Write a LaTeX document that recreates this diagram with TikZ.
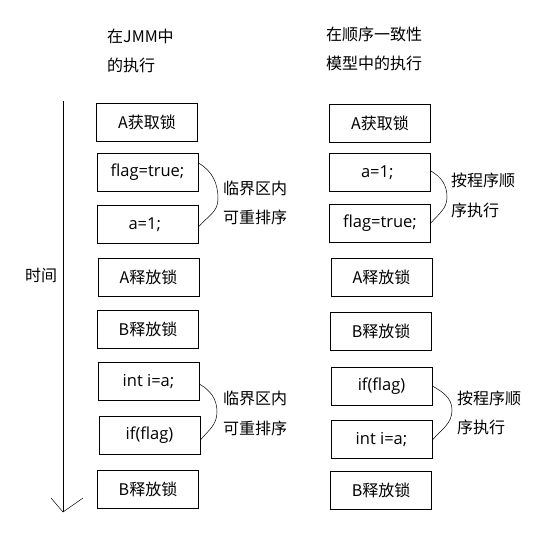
\documentclass[tikz,border=0pt]{standalone}
\usepackage{fontspec}
\setmainfont{Noto Sans CJK SC}
\newfontfamily\codefont{Open Sans}
\usetikzlibrary{calc}
\begin{document}
\begin{tikzpicture}
	[x=1pt, y=-1pt,
	every node/.style={font=\fontsize{16}{19}\selectfont},
	stepbox/.style = {draw, line width=0.8pt, minimum width=101pt, minimum height=38pt, inner sep=0pt},
	codebox/.style = {stepbox, font=\codefont\fontsize{16.5}{19}\selectfont},
	lbl/.style = {anchor=west, inner sep=0pt},
	brace/.style = {line width=0.5pt}
	]
	\useasboundingbox (0,0) rectangle (553,536);

	% left column: JMM
	\node[lbl] (lt1) at (107,36) {在JMM中};
	\node[lbl] (lt2) at (107,65) {的执行};
	\node[stepbox] (la) at (147,122.5) {A获取锁};
	\node[codebox] (lb) at (147.5,172) {flag=true;};
	\node[codebox] (lc) at (147.5,224.5) {a=1;\,\,};
	\node[stepbox] (ld) at (148.5,277) {A释放锁};
	\node[stepbox] (le) at (148,329.5) {B释放锁};
	\node[codebox] (lf) at (148.5,381.5) {int i=a;};
	\node[codebox] (lg) at (149.5,435.5) {if(flag)};
	\node[stepbox] (lh) at (148,489.5) {B释放锁};

	% right column: sequential consistency
	\node[lbl] (rt1) at (326,34) {在顺序一致性};
	\node[lbl] (rt2) at (326,63) {模型中的执行};
	\node[stepbox] (ra) at (380,123.5) {A获取锁};
	\node[codebox] (rb) at (380,172.5) {a=1;\,\,};
	\node[codebox] (rc) at (380,223.5) {flag=true;};
	\node[stepbox] (rd) at (381.5,277.5) {A释放锁};
	\node[stepbox] (re) at (381,331) {B释放锁};
	\node[codebox] (rf) at (381.5,386) {if(flag)};
	\node[codebox] (rg) at (381.5,439.5) {int i=a;};
	\node[stepbox] (rh) at (381,490.5) {B释放锁};

	% time axis
	\coordinate (t0) at (63,101);
	\coordinate (t1) at (63,512);
	\coordinate (hl) at (51,498);
	\coordinate (hr) at (83,498);
	\draw[line width=0.8pt] (t0) -- (t1);
	\draw[line width=0.5pt] (hl) -- (t1) -- (hr);
	\node (time) at (41,275) {时间};

	% braces
	\coordinate (s1) at ($(lb.east)+(0,-9)$);
	\coordinate (m1) at (218,199);
	\coordinate (e1) at ($(lc.east)+(0,2.5)$);
	\draw[brace] (s1) to[out=-30,in=90] (m1) to[out=-90,in=50] (e1);
	\node[lbl] (n1) at (223,188) {临界区内};
	\node[lbl] (n2) at (223,217) {可重排序};

	\coordinate (s2) at ($(lf.east)+(0,2.5)$);
	\coordinate (m2) at (217,412);
	\coordinate (e2) at ($(lg.east)+(0,4.5)$);
	\draw[brace] (s2) to[out=-30,in=90] (m2) to[out=-90,in=50] (e2);
	\node[lbl] (n3) at (223,398) {临界区内};
	\node[lbl] (n4) at (223,428) {可重排序};

	\coordinate (s3) at ($(rb.east)+(0,-1.5)$);
	\coordinate (m3) at (447,197);
	\coordinate (e3) at ($(rc.east)+(0,-0.5)$);
	\draw[brace] (s3) to[out=-30,in=90] (m3) to[out=-90,in=50] (e3);
	\node[lbl] (n5) at (451,180) {按程序顺};
	\node[lbl] (n6) at (451,210) {序执行};

	\coordinate (s4) at ($(rf.east)+(0,0)$);
	\coordinate (m4) at (452,410);
	\coordinate (e4) at ($(rg.east)+(0,0.5)$);
	\draw[brace] (s4) to[out=-30,in=90] (m4) to[out=-90,in=50] (e4);
	\node[lbl] (n7) at (457,398) {按程序顺};
	\node[lbl] (n8) at (457,427) {序执行};
\end{tikzpicture}
\end{document}
